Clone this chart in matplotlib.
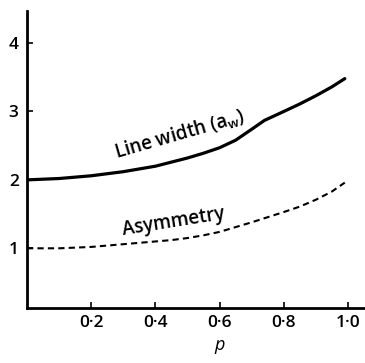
import numpy as np
from matplotlib import pyplot as plt

plt.rcParams['font.family'] = ['Open Sans', 'DejaVu Sans']
plt.rcParams['font.weight'] = 'semibold'
plt.rcParams['mathtext.default'] = 'regular'

# values
p = [0.0, 0.05, 0.1, 0.15, 0.2, 0.25, 0.3, 0.35, 0.4, 0.45, 0.5, 0.55,
     0.6, 0.65, 0.7, 0.74, 0.8, 0.85, 0.9, 0.95, 0.99]
line_width = [2.0, 2.01, 2.02, 2.04, 2.06, 2.09, 2.12, 2.16, 2.2, 2.26, 2.32, 2.39,
              2.47, 2.58, 2.74, 2.87, 3.0, 3.11, 3.23, 3.36, 3.48]
asymmetry = [1.0, 1.0, 1.0, 1.01, 1.02, 1.04, 1.06, 1.08, 1.1, 1.12, 1.15, 1.19,
             1.24, 1.31, 1.38, 1.44, 1.53, 1.61, 1.71, 1.83, 1.96]

xticks = [0.2, 0.4, 0.6, 0.8, 1.0]
xticklabels = ['0\u00b72', '0\u00b74', '0\u00b76', '0\u00b78', '1\u00b70']
yticks = [1, 2, 3, 4]

fig = plt.figure(figsize=(3.65, 3.63), dpi=100)
ax = fig.add_axes([0.074, 0.152, 0.926, 0.818])

ax.plot(p, line_width, color='k', lw=2.3, solid_capstyle='round')
ax.plot(p, asymmetry, color='k', lw=1.5, dashes=(3, 2))

ax.set_xlim(0, 1.053)
ax.set_ylim(0.13, 4.47)

for s in ['top', 'right']:
    ax.spines[s].set_visible(False)
for s in ['left', 'bottom']:
    ax.spines[s].set_linewidth(2)

ax.set_xticks(xticks)
ax.set_xticklabels(xticklabels)
ax.set_yticks(yticks)
ax.tick_params(direction='in', length=4, width=1.2, labelsize=12.5, pad=5)
ax.tick_params(axis='y', pad=6)

ax.set_xlabel('p', fontsize=13, style='italic')
ax.xaxis.set_label_coords(0.6 / 1.053, -0.095)

ax.text(0.475, 2.66, r'Line width (a$_w$)', fontsize=13.5, rotation=16,
        ha='center', va='center')
ax.text(0.455, 1.38, 'Asymmetry', fontsize=13.5, rotation=9,
        ha='center', va='center')

fig.savefig('out.png', dpi=100)
